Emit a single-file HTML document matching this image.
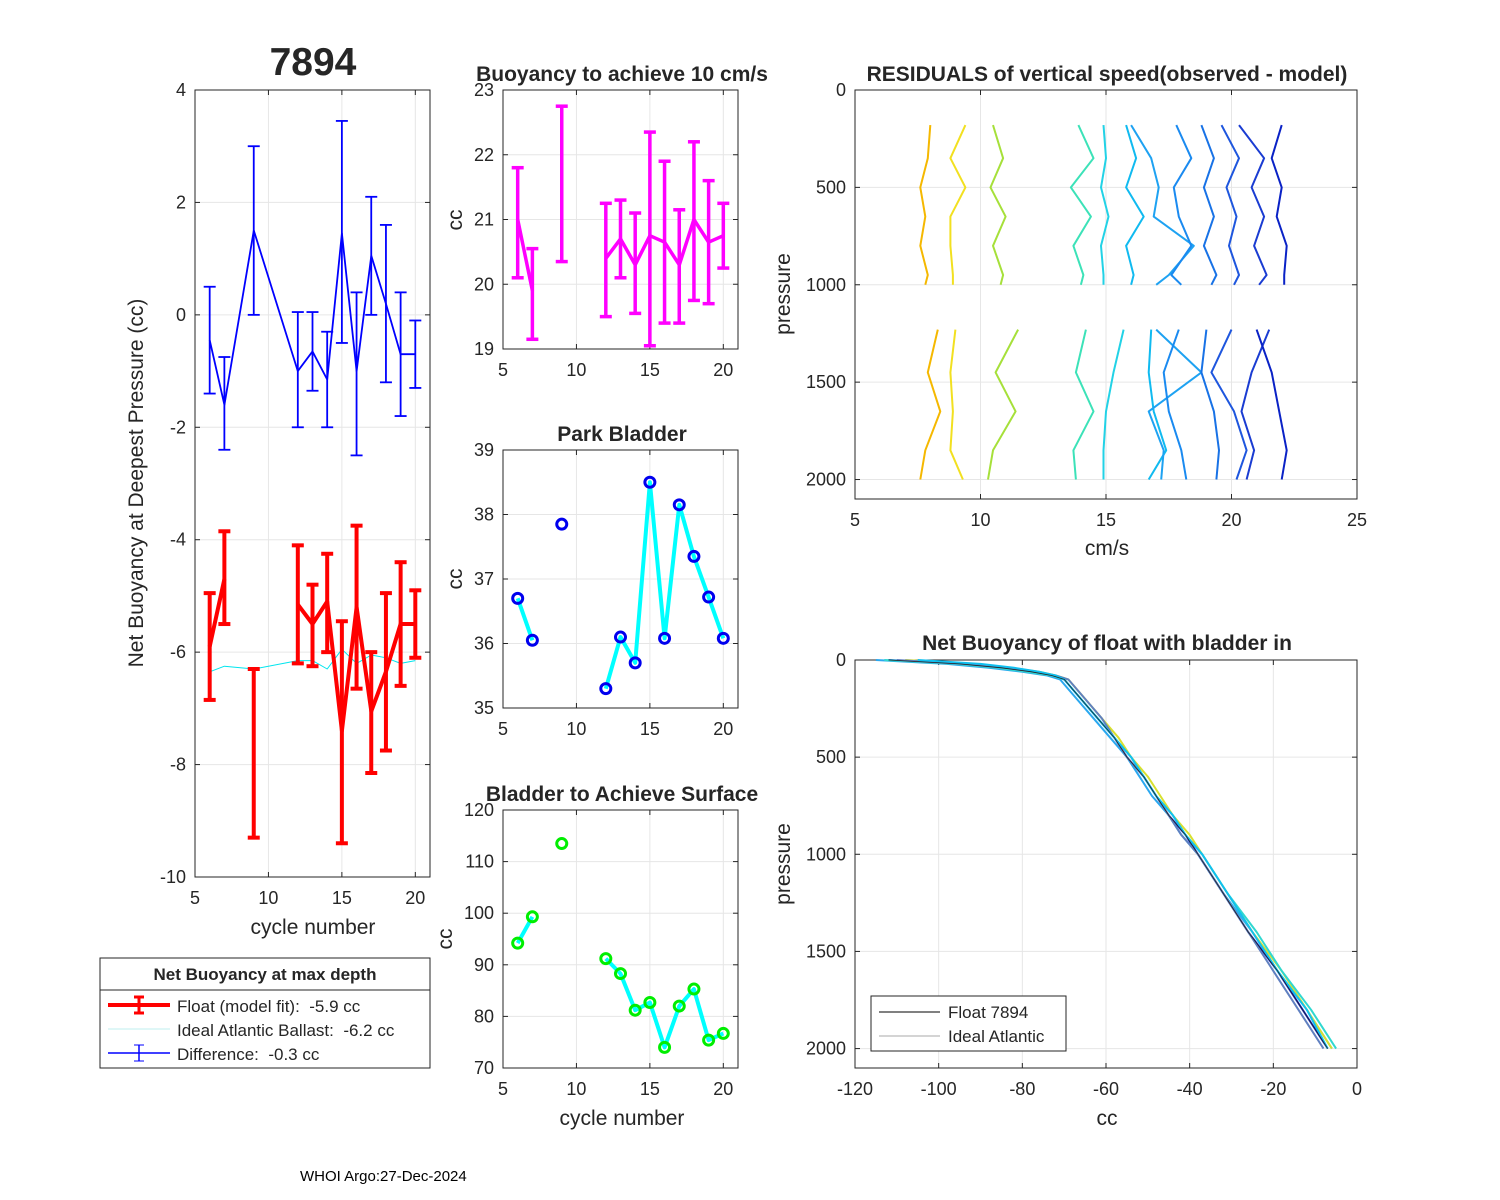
<!DOCTYPE html>
<html><head><meta charset="utf-8"><style>
body{margin:0;background:#fff}
svg{display:block;font-family:"Liberation Sans",Arial,sans-serif}
</style></head><body>
<svg id="s" width="1500" height="1200" xmlns="http://www.w3.org/2000/svg"></svg>
<script>
const cycles=[6,7,9,12,13,14,15,16,17,18,19,20];
const diffVal=[-0.45,-1.6,1.5,-1.0,-0.65,-1.15,1.45,-1.0,1.05,0.2,-0.7,-0.7];
const diffHi=[0.5,-0.75,3.0,0.05,0.05,-0.3,3.45,0.4,2.1,1.6,0.4,-0.1];
const diffLo=[-1.4,-2.4,0.0,-2.0,-1.35,-2.0,-0.5,-2.5,0.0,-1.2,-1.8,-1.3];
const floatVal=[-5.9,-4.7,null,-5.15,-5.5,-5.1,-7.4,-5.2,-7.05,-6.35,-5.5,-5.5];
const floatHi=[-4.95,-3.85,-6.3,-4.1,-4.8,-4.25,-5.45,-3.75,-6.0,-4.95,-4.4,-4.9];
const floatLo=[-6.85,-5.5,-9.3,-6.2,-6.25,-6.0,-9.4,-6.65,-8.15,-7.75,-6.6,-6.1];
const idealVal=[-6.35,-6.25,-6.3,-6.15,-6.15,-6.3,-5.95,-6.2,-6.05,-6.1,-6.2,-6.15];
const buoyVal=[21.0,19.9,null,20.4,20.7,20.3,20.75,20.65,20.3,21.0,20.65,20.75];
const buoyHi=[21.8,20.55,22.75,21.25,21.3,21.1,22.35,21.9,21.15,22.2,21.6,21.25];
const buoyLo=[20.1,19.15,20.35,19.5,20.1,19.55,19.05,19.4,19.4,19.75,19.7,20.25];
const parkVal=[36.7,36.05,37.85,35.3,36.1,35.7,38.5,36.08,38.15,37.35,36.72,36.08];
const surfVal=[94.2,99.3,113.5,91.2,88.3,81.2,82.7,74,82,85.3,75.4,76.7];
const resPresUp=[180,350,500,650,800,950,1000];
const resPresLo=[1230,1450,1650,1850,2000];
const resUp=[[8.0,7.9,7.6,7.8,7.6,7.9,7.8],[9.4,8.8,9.4,8.8,8.8,8.9,8.9],[10.5,10.9,10.4,11.0,10.5,10.9,10.8],[13.9,14.5,13.6,14.4,13.7,14.1,14.0],[14.9,15.0,14.8,15.1,14.8,14.9,14.9],[15.8,16.2,15.8,16.5,15.8,16.1,16.0],[16.0,16.8,17.1,16.9,18.5,17.5,17.0],[17.8,18.4,17.7,17.9,18.4,17.6,18.0],[18.8,19.3,18.9,19.3,18.9,19.4,19.2],[19.6,20.3,19.8,20.2,19.9,20.3,20.1],[20.3,21.3,20.8,21.3,20.9,21.4,21.1],[22.0,21.6,22.0,21.8,22.2,22.1,22.1]];
const resLo=[[8.3,7.9,8.4,7.8,7.6],[9.0,8.8,8.9,8.8,9.3],[11.5,10.6,11.4,10.5,10.3],[14.2,13.8,14.5,13.7,13.8],[15.7,15.3,15.0,14.9,14.9],[16.8,16.7,16.9,17.4,16.7],[17.0,18.8,16.7,17.3,17.2],[17.9,17.3,17.5,18.0,18.2],[19.0,18.8,19.3,19.5,19.4],[20.0,19.2,20.1,20.6,20.2],[21.5,20.8,20.4,20.9,20.6],[21.0,21.6,21.9,22.2,22.0]];
const resColors=["#f5b800","#f2e020","#a6e03a","#3ce2b8","#22d2e6","#10baf0","#1ea2f2","#1a8af0","#1872e6","#1e56de","#1a3cd2","#0a22c6"];
const nbPres=[0,20,40,60,80,100,150,200,300,400,500,600,700,800,900,1000,1200,1400,1600,1800,2000];
const nbLines=[
[-112,-95,-85,-78,-73,-70,-68,-66,-62,-58,-55,-51,-48,-45,-41,-38,-32,-26,-19,-13,-7],
[-115,-98,-88,-80,-74,-71,-69,-67,-63,-59,-55,-52,-49,-45,-42,-38,-32,-25,-19,-12,-6],
[-108,-92,-83,-76,-72,-69,-67,-65,-61,-57,-54,-50,-47,-44,-40,-37,-31,-25,-18,-12,-6],
[-113,-96,-86,-79,-73,-70,-68,-66,-62,-58,-54,-51,-48,-44,-41,-37,-31,-24,-18,-11,-5],
[-110,-94,-84,-77,-72,-69,-67,-65,-61,-58,-55,-51,-48,-45,-42,-38,-32,-26,-20,-14,-8],
[-105,-90,-82,-76,-72,-70,-68,-66,-62,-58,-54,-51,-48,-44,-41,-37,-31,-25,-19,-12,-7]];
const nbColors=["#1a2fd0","#2aa8f0","#d8e030","#30d8d0","#6080c0","#10c0f0"];

const S=document.getElementById('s');
const NS='http://www.w3.org/2000/svg';
function el(t,a,p){const e=document.createElementNS(NS,t);for(const k in a)e.setAttribute(k,a[k]);(p||S).appendChild(e);return e;}
function txt(x,y,s,o){o=o||{};const e=el('text',{x:x,y:y,'font-size':o.fs||18,'text-anchor':o.a||'middle','font-weight':o.b?'bold':'normal',fill:'#262626'},o.p);if(o.r)e.setAttribute('transform','rotate(-90 '+x+' '+y+')');e.textContent=s;return e;}
function axes(name,b,xd,yd,xt,yt,rev){
  const g=el('g',{});
  const sx=v=>b.x0+(v-xd[0])/(xd[1]-xd[0])*(b.x1-b.x0);
  const sy=rev?v=>b.y0+(v-yd[0])/(yd[1]-yd[0])*(b.y1-b.y0):v=>b.y1-(v-yd[0])/(yd[1]-yd[0])*(b.y1-b.y0);
  el('rect',{x:b.x0,y:b.y0,width:b.x1-b.x0,height:b.y1-b.y0,fill:'#fff'},g);
  xt.forEach(t=>{const x=sx(t);el('line',{x1:x,x2:x,y1:b.y0,y2:b.y1,stroke:'#e6e6e6'},g);el('line',{x1:x,x2:x,y1:b.y1,y2:b.y1-5,stroke:'#262626'},g);el('line',{x1:x,x2:x,y1:b.y0,y2:b.y0+5,stroke:'#262626'},g);const t1=txt(x,b.y1+27,String(t),{p:g});});
  yt.forEach(t=>{const y=sy(t);el('line',{x1:b.x0,x2:b.x1,y1:y,y2:y,stroke:'#e6e6e6'},g);el('line',{x1:b.x0,x2:b.x0+5,y1:y,y2:y,stroke:'#262626'},g);el('line',{x1:b.x1,x2:b.x1-5,y1:y,y2:y,stroke:'#262626'},g);const t1=txt(b.x0-9,y+6,String(t),{a:'end',p:g});});
  el('rect',{x:b.x0,y:b.y0,width:b.x1-b.x0,height:b.y1-b.y0,fill:'none',stroke:'#262626','stroke-width':1},g);
  return {sx,sy,g};
}
function poly(ax,xs,ys,c,w,name){let segs=[],cur=[];xs.forEach((x,i)=>{if(ys[i]==null||x==null){if(cur.length)segs.push(cur);cur=[];}else cur.push(ax.sx(x).toFixed(1)+','+ax.sy(ys[i]).toFixed(1));});if(cur.length)segs.push(cur);
  segs.forEach(s=>{const p=el('polyline',{points:s.join(' '),fill:'none',stroke:c,'stroke-width':w,'stroke-linejoin':'round'});});}
function errs(ax,xs,hi,lo,c,w,name){xs.forEach((x,i)=>{const X=ax.sx(x),a=ax.sy(hi[i]),b=ax.sy(lo[i]);const g=el('g',{stroke:c,'stroke-width':w});el('line',{x1:X,x2:X,y1:a,y2:b},g);el('line',{x1:X-6,x2:X+6,y1:a,y2:a},g);el('line',{x1:X-6,x2:X+6,y1:b,y2:b},g);});}
function marks(ax,xs,ys,c,name){xs.forEach((x,i)=>{const m=el('circle',{cx:ax.sx(x),cy:ax.sy(ys[i]),r:5,fill:'none',stroke:c,'stroke-width':3});});}

// Panel 1
const a1=axes('net-buoyancy-axes',{x0:195,x1:430,y0:90,y1:877},[5,21],[-10,4],[5,10,15,20],[4,2,0,-2,-4,-6,-8,-10]);
poly(a1,cycles,idealVal,'#00e5ee',1,'ideal-ballast-line');
errs(a1,cycles,floatHi,floatLo,'#ff0000',4,'float-error-bar');
poly(a1,cycles,floatVal,'#ff0000',4,'float-line');
errs(a1,cycles,diffHi,diffLo,'#0000ff',1.8,'difference-error-bar');
poly(a1,cycles,diffVal,'#0000ff',1.8,'difference-line');
txt(313,75,'7894',{fs:39,b:true});
txt(313,934,'cycle number',{fs:21});
txt(143,483,'Net Buoyancy at Deepest Pressure (cc)',{fs:21,r:true});
// legend
const lg=el('g',{});
el('rect',{x:100,y:958,width:330,height:110,fill:'#fff',stroke:'#262626'},lg);
el('line',{x1:100,x2:430,y1:990,y2:990,stroke:'#262626'},lg);
txt(265,980,'Net Buoyancy at max depth',{fs:17,b:true,p:lg});
el('line',{x1:108,x2:170,y1:1005,y2:1005,stroke:'#f00','stroke-width':4},lg);
el('line',{x1:139,x2:139,y1:997,y2:1013,stroke:'#f00','stroke-width':3},lg);
el('line',{x1:134,x2:144,y1:997,y2:997,stroke:'#f00','stroke-width':3},lg);el('line',{x1:134,x2:144,y1:1013,y2:1013,stroke:'#f00','stroke-width':3},lg);
txt(177,1012,'Float (model fit):\u00a0 -5.9 cc',{fs:17,a:'start',p:lg});
el('line',{x1:108,x2:170,y1:1029,y2:1029,stroke:'#bfefef','stroke-width':1},lg);
txt(177,1036,'Ideal Atlantic Ballast:\u00a0 -6.2 cc',{fs:17,a:'start',p:lg});
el('line',{x1:108,x2:170,y1:1053,y2:1053,stroke:'#00f','stroke-width':1.5},lg);
el('line',{x1:139,x2:139,y1:1045,y2:1061,stroke:'#00f','stroke-width':1.5},lg);
el('line',{x1:134,x2:144,y1:1045,y2:1045,stroke:'#00f'},lg);el('line',{x1:134,x2:144,y1:1061,y2:1061,stroke:'#00f'},lg);
txt(177,1060,'Difference:\u00a0 -0.3 cc',{fs:17,a:'start',p:lg});

// Panel 2
const a2=axes('buoyancy-10cms-axes',{x0:503,x1:738,y0:90,y1:349},[5,21],[19,23],[5,10,15,20],[23,22,21,20,19]);
errs(a2,cycles,buoyHi,buoyLo,'#ff00ff',3.5,'buoyancy-error-bar');
poly(a2,cycles,buoyVal,'#ff00ff',3.5,'buoyancy-line');
txt(622,81,'Buoyancy to achieve 10 cm/s',{fs:21,b:true});
txt(462,220,'cc',{fs:21,r:true});
// Panel 3
const a3=axes('park-bladder-axes',{x0:503,x1:738,y0:450,y1:708},[5,21],[35,39],[5,10,15,20],[39,38,37,36,35]);
poly(a3,cycles,parkVal.map((v,i)=>cycles[i]==9?null:v),'#00ffff',4,'park-line');
marks(a3,cycles,parkVal,'#0000ee','park-marker');
txt(622,441,'Park Bladder',{fs:21,b:true});
txt(462,579,'cc',{fs:21,r:true});
// Panel 4
const a4=axes('surface-bladder-axes',{x0:503,x1:738,y0:810,y1:1068},[5,21],[70,120],[5,10,15,20],[120,110,100,90,80,70]);
poly(a4,cycles,surfVal.map((v,i)=>cycles[i]==9?null:v),'#00ffff',4,'surface-line');
marks(a4,cycles,surfVal,'#00ee00','surface-marker');
txt(622,801,'Bladder to Achieve Surface',{fs:21,b:true});
txt(622,1125,'cycle number',{fs:21});
txt(452,939,'cc',{fs:21,r:true});
// Panel 5
const a5=axes('residuals-axes',{x0:855,x1:1357,y0:90,y1:499},[5,25],[0,2100],[5,10,15,20,25],[0,500,1000,1500,2000],true);
resUp.forEach((r,i)=>{poly(a5,r,resPresUp,resColors[i],2,'residual-profile-upper');poly(a5,resLo[i],resPresLo,resColors[i],2,'residual-profile-lower');});
txt(1107,81,'RESIDUALS of vertical speed(observed - model)',{fs:21,b:true});
txt(1107,555,'cm/s',{fs:21});
txt(790,294,'pressure',{fs:21,r:true});
// Panel 6
const a6=axes('net-buoyancy-profile-axes',{x0:855,x1:1357,y0:660,y1:1068},[-120,0],[0,2100],[-120,-100,-80,-60,-40,-20,0],[0,500,1000,1500,2000],true);
nbLines.forEach((l,i)=>poly(a6,l,nbPres,nbColors[i],2,'buoyancy-profile'));
poly(a6,nbLines[0],nbPres,'#222',0.8,'float-profile');
txt(1107,650,'Net Buoyancy of float with bladder in',{fs:21,b:true});
txt(1107,1125,'cc',{fs:21});
txt(790,864,'pressure',{fs:21,r:true});
const lg2=el('g',{});
el('rect',{x:871,y:996,width:195,height:55,fill:'#fff',stroke:'#262626'},lg2);
el('line',{x1:879,x2:940,y1:1012,y2:1012,stroke:'#000'},lg2);
txt(948,1018,'Float 7894',{fs:17,a:'start',p:lg2});
el('line',{x1:879,x2:940,y1:1036,y2:1036,stroke:'#aaa'},lg2);
txt(948,1042,'Ideal Atlantic',{fs:17,a:'start',p:lg2});
const f=txt(300,1181,'WHOI Argo:27-Dec-2024',{fs:15,a:'start'});f.setAttribute('fill','#000');
</script>
</body></html>
